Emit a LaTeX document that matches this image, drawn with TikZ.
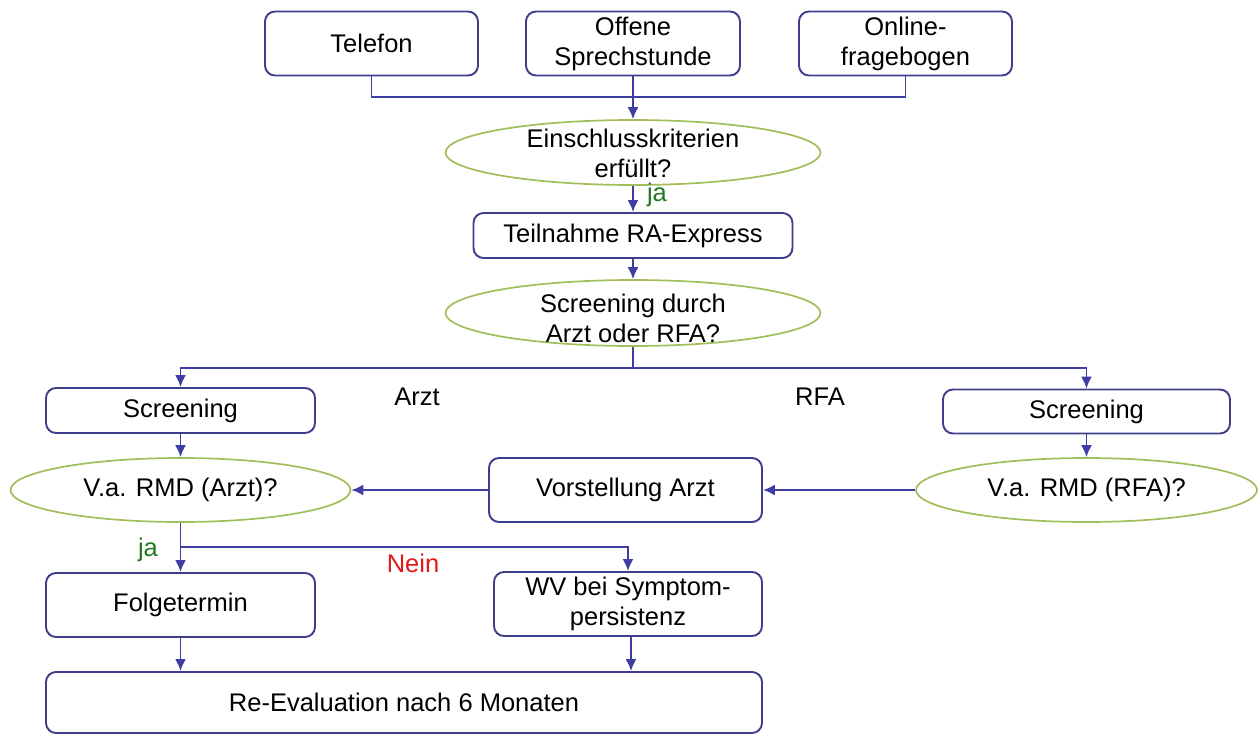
\documentclass[tikz,border=0pt]{standalone}
\usepackage{fontspec}
\setmainfont{Liberation Sans}
\usetikzlibrary{arrows.meta,shapes.geometric}
\definecolor{boxblue}{RGB}{62,62,140}
\definecolor{arrowblue}{RGB}{62,62,165}
\definecolor{ovalgreen}{RGB}{160,190,90}
\definecolor{yesgreen}{RGB}{35,120,35}
\definecolor{nored}{RGB}{225,25,25}
\begin{document}
\begin{tikzpicture}[x=1pt,y=-1pt,
  every node/.style={font=\fontsize{25.5}{30}\selectfont, text=black},
  box/.style={draw=boxblue, line width=1.9pt, rounded corners=10pt,
              inner sep=0pt, align=center},
  oval/.style={draw=ovalgreen, line width=1.7pt, ellipse, inner sep=0pt},
  ovaltext/.style={align=center, inner sep=0pt},
  flow/.style={draw=arrowblue, line width=1.9pt},
  arr/.style={flow, -{Latex[length=12pt,width=11pt]}},
  yes/.style={text=yesgreen},
  no/.style={text=nored}]
\useasboundingbox (0,0) rectangle (1259,734);

% entry channels
\node[box, minimum width=213pt, minimum height=64pt] (tel) at (371.5,43.5) {Telefon};
\node[box, minimum width=214pt, minimum height=64pt] (off) at (633,43.5) {Offene\\Sprechstunde};
\node[box, minimum width=213pt, minimum height=64pt] (onl) at (905.5,43.5) {Online-\\fragebogen};

% inclusion check
\node[oval, minimum width=375pt, minimum height=65pt] (e1) at (633,152.5) {};
\node[ovaltext] (e1t) at (633,153.5) {Einschlusskriterien\\erfüllt?};

\node[box, minimum width=319pt, minimum height=45pt] (teil) at (633,235.5) {Teilnahme RA-Express};

\node[oval, minimum width=375pt, minimum height=66pt] (e2) at (633,313) {};
\node[ovaltext] (e2t) at (633,318) {Screening durch\\Arzt oder RFA?};

% two screening paths
\node[box, minimum width=269pt, minimum height=45pt] (scrL) at (180.5,410.5) {Screening};
\node[box, minimum width=287pt, minimum height=44pt] (scrR) at (1086.5,411.5) {Screening};
\node (arzt) at (417,397) {Arzt};
\node (rfa) at (820,397) {RFA};

\node[oval, minimum width=340pt, minimum height=64pt] (vaL) at (180.5,490) {};
\node[ovaltext] (vaLt) at (180.5,490) {V.a. RMD (Arzt)?};
\node[box, minimum width=273pt, minimum height=64pt] (vor) at (625.5,490) {Vorstellung Arzt};
\node[oval, minimum width=341pt, minimum height=64pt] (vaR) at (1086.5,490) {};
\node[ovaltext] (vaRt) at (1086.5,490) {V.a. RMD (RFA)?};

% outcomes
\node[box, minimum width=269pt, minimum height=64pt] (fol) at (180.5,605) {Folgetermin};
\node[box, minimum width=268pt, minimum height=64pt] (wv) at (628,604) {WV bei Symptom-\\persistenz};
\node[box, minimum width=716pt, minimum height=61pt] (re) at (404,702.5) {Re-Evaluation nach 6 Monaten};

% connectors
\coordinate (j1) at (633,97);
\draw[flow] (tel.south) |- (j1) -| (onl.south);
\draw[arr] (off.south) -- (e1.north);
\draw[arr] (e1.south) -- (teil.north);
\node[yes, inner sep=0pt, anchor=base] (ja1) at (657,201) {ja};
\draw[arr] (teil.south) -- (e2.north);

\coordinate (j2) at (633,368);
\draw[flow] (e2.south) -- (j2);
\draw[arr] (j2) -| (scrL.north);
\draw[arr] (j2) -| (scrR.north);

\draw[arr] (scrL.south) -- (vaL.north);
\draw[arr] (scrR.south) -- (vaR.north);
\draw[arr] (vaR.west) -- (vor.east);
\draw[arr] (vor.west) -- (vaL.east);

\coordinate (j3) at (180.5,547);
\draw[arr] (vaL.south) -- (fol.north);
\draw[arr] (j3) -| (wv.north);
\node[yes] (ja2) at (148,550) {ja};
\node[no] (nein) at (413,563) {Nein};

\draw[arr] (fol.south) -- (fol.south |- re.north);
\draw[arr] ([xshift=3pt]wv.south) -- ([xshift=3pt]wv.south |- re.north);
\end{tikzpicture}
\end{document}
